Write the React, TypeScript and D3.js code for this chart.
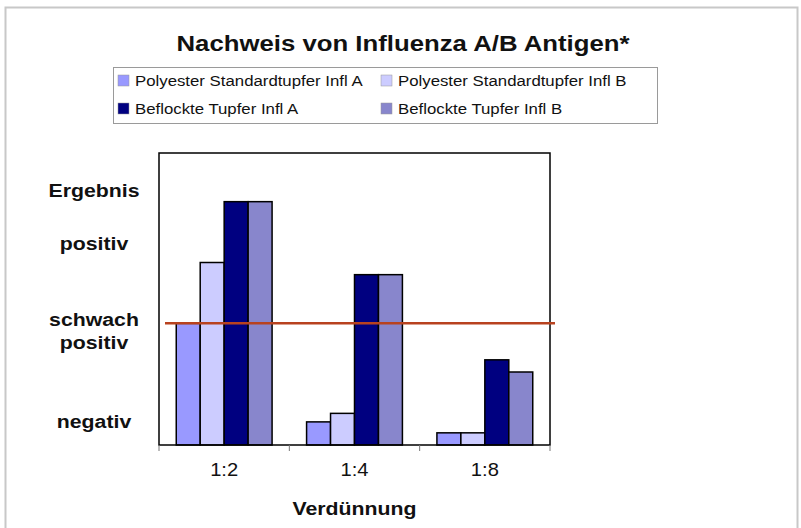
import React from 'react';
import * as d3 from 'd3';

const TITLE = 'Nachweis von Influenza A/B Antigen*';
const X_TITLE = 'Verdünnung';
const CATEGORIES = ['1:2', '1:4', '1:8'];
const SERIES_NAMES = [
  'Polyester Standardtupfer Infl A',
  'Polyester Standardtupfer Infl B',
  'Beflockte Tupfer Infl A',
  'Beflockte Tupfer Infl B',
];
const SERIES_COLORS = ['#9999ff', '#ccccff', '#000080', '#8886cc'];
const POLY_A = [5, 0.95, 0.5];
const POLY_B = [7.5, 1.3, 0.5];
const BEFL_A = [10, 7, 3.5];
const BEFL_B = [10, 7, 3];
const THRESHOLD = 5;
// y-axis is categorical text, placed at these levels
const Y_LABELS = ['Ergebnis', 'positiv', 'schwach', 'positiv', 'negativ'];
const Y_LABEL_LEVELS = [10.2, 8, 4.9, 3.95, 0.7];

const WIDTH = 801;
const HEIGHT = 528;
const SX = 1.12; // the original text is a bit wide
const FONT = '"Liberation Sans", Arial, Helvetica, sans-serif';

function Label({ x, y, size, bold = false, anchor = 'start', children }: any) {
  return (
    <text
      transform={`translate(${x},${y}) scale(${SX},1)`}
      fontSize={size}
      fontWeight={bold ? 'bold' : 'normal'}
      fontFamily={FONT}
      textAnchor={anchor}
      fill="#111"
    >
      {children}
    </text>
  );
}

export default function App() {
  const margin = { top: 153, right: 251, bottom: 83, left: 159 };
  const innerW = WIDTH - margin.left - margin.right;
  const innerH = HEIGHT - margin.top - margin.bottom;
  const series = [POLY_A, POLY_B, BEFL_A, BEFL_B];

  const x = d3.scaleBand().domain(CATEGORIES).range([0, innerW]).padding(0);
  const xSub = d3
    .scaleBand()
    .domain(SERIES_NAMES)
    .range([0, x.bandwidth()])
    .paddingInner(0)
    .paddingOuter(0.72);
  const y = d3.scaleLinear().domain([0, 12]).range([innerH, 0]);

  const legendCols = [0, 263];
  const legendRows = [0, 28];

  return (
    <svg
      width={WIDTH}
      height={HEIGHT}
      style={{ position: 'absolute', left: 0, top: 0, background: '#fff' }}
    >
      {/* outer frame */}
      <rect x={5.5} y={7.5} width={792} height={530} fill="#fff" stroke="#c8c8c8" strokeWidth={2} />

      <Label x={403} y={51} size={23} bold anchor="middle">
        {TITLE}
      </Label>

      {/* legend */}
      <g transform="translate(113,67)">
        <rect x={0.5} y={0.5} width={544} height={56} fill="#fff" stroke="#9a9a9a" strokeWidth={1} />
        {SERIES_NAMES.map((name, i) => {
          const cx = legendCols[i % 2];
          const cy = legendRows[Math.floor(i / 2)];
          return (
            <g key={name} transform={`translate(${cx + 5},${cy + 8})`}>
              <rect width={11} height={11} fill={SERIES_COLORS[i]} stroke="#999" strokeWidth={0.5} />
              <Label x={17} y={11} size={15}>
                {name}
              </Label>
            </g>
          );
        })}
      </g>

      <g transform={`translate(${margin.left},${margin.top})`}>
        {/* bars */}
        {CATEGORIES.map((cat, ci) => (
          <g key={cat} transform={`translate(${x(cat)},0)`}>
            {series.map((vals, si) => (
              <rect
                key={si}
                x={xSub(SERIES_NAMES[si])}
                y={y(vals[ci])}
                width={xSub.bandwidth()}
                height={innerH - y(vals[ci])}
                fill={SERIES_COLORS[si]}
                stroke="#000"
                strokeWidth={1.5}
              />
            ))}
          </g>
        ))}

        {/* plot frame */}
        <rect x={0} y={0} width={innerW} height={innerH} fill="none" stroke="#000" strokeWidth={1.5} />

        {/* x ticks */}
        {[0, ...CATEGORIES.map((c) => (x(c) as number) + x.bandwidth())].map((tx, i) => (
          <line key={i} x1={tx} x2={tx} y1={innerH} y2={innerH + 6} stroke="#777" strokeWidth={1} />
        ))}
        {CATEGORIES.map((cat) => (
          <Label key={cat} x={(x(cat) as number) + x.bandwidth() / 2} y={innerH + 31} size={18} anchor="middle">
            {cat}
          </Label>
        ))}

        {/* threshold line */}
        <line
          x1={6}
          x2={innerW + 5}
          y1={y(THRESHOLD)}
          y2={y(THRESHOLD)}
          stroke="#b8421f"
          strokeWidth={2.5}
        />

        <Label x={innerW / 2} y={innerH + 70} size={19} bold anchor="middle">
          {X_TITLE}
        </Label>
      </g>

      {/* y labels */}
      {Y_LABELS.map((lab, i) => (
        <Label key={i} x={94} y={margin.top + y(Y_LABEL_LEVELS[i])} size={19} bold anchor="middle">
          {lab}
        </Label>
      ))}
    </svg>
  );
}
